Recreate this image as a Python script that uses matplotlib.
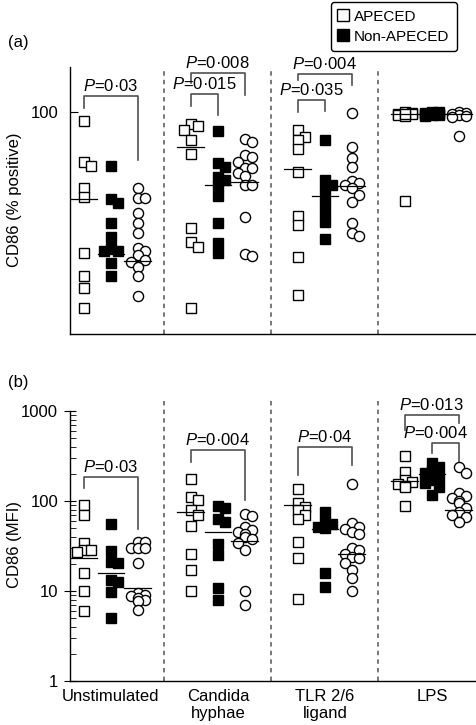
import numpy as np
import matplotlib
matplotlib.use("Agg")
import matplotlib.pyplot as plt
from matplotlib.lines import Line2D
from matplotlib.transforms import blended_transform_factory

plt.rcParams['font.family'] = ['Liberation Sans', 'DejaVu Sans']
plt.rcParams['mathtext.fontset'] = 'custom'
plt.rcParams['mathtext.it'] = 'Liberation Sans:italic'
plt.rcParams['mathtext.rm'] = 'Liberation Sans'
plt.rcParams['lines.scale_dashes'] = False

groups = ['Unstimulated', 'Candida\nhyphae', 'TLR 2/6\nligand', 'LPS']
legend_labels = ['APECED', 'Non-APECED']

# (a) CD86 % positive, per stimulus
pct_apeced = [
    [95.7, 77.2, 75.6, 65.7, 61.7, 36.3, 26.1, 20.8, 11.5],
    [94.4, 93.6, 91.7, 87.2, 80.8, 47.5, 41.5, 39.0, 11.5],
    [91.7, 88.7, 87.2, 83.0, 72.9, 53.0, 49.0, 34.5, 17.5],
    [99.6, 99.4, 99.1, 98.8, 98.5, 98.2, 99.0, 59.9],
]
pct_non = [
    [75.5, 60.5, 58.7, 50.0, 43.7, 38.5, 37.3, 37.3, 31.8, 26.1],
    [91.4, 77.0, 74.9, 70.7, 69.2, 66.5, 62.0, 49.7, 41.0, 36.3],
    [87.2, 69.2, 67.0, 64.7, 59.5, 55.0, 50.5, 42.6],
    [99.8, 99.6, 99.4, 99.2, 99.0, 98.8, 98.6, 98.4, 98.2],
]
pct_healthy = [
    [65.7, 61.3, 61.3, 54.5, 49.7, 45.5, 38.8, 37.3, 35.5, 33.3, 32.5, 30.2, 26.1, 17.1],
    [87.6, 86.4, 80.4, 79.7, 77.4, 74.5, 74.5, 72.2, 71.0, 67.0, 67.0, 52.7, 35.8, 35.1],
    [99.5, 83.9, 79.2, 74.9, 68.9, 68.0, 67.0, 65.5, 62.5, 59.5, 50.0, 45.3, 44.0],
    [99.7, 99.4, 99.0, 98.6, 98.2, 97.6, 89.0],
]
pct_med_apeced = [60.5, 83.9, 74.3, 99.0]
pct_med_non = [35.8, 67.0, 62.0, 99.0]
pct_med_healthy = [32.8, 68.2, 66.5, 99.0]

# (b) CD86 MFI, per stimulus
mfi_apeced = [
    [90.3, 69.9, 34.4, 28.5, 28.5, 27.3, 15.8, 10.0, 6.0],
    [175, 110, 102.6, 79.4, 69.9, 52.7, 25.8, 17.1, 10.1],
    [134.9, 95.7, 86.5, 79.4, 69.9, 62.6, 35.3, 23.1, 8.1],
    [316, 212, 171, 164, 154.5, 146.8, 142, 88],
]
mfi_non = [
    [55.5, 28.0, 21.2, 20.6, 13.3, 12.7, 9.8, 5.0],
    [88.0, 83.0, 62.6, 58.9, 33.3, 25.1, 10.7, 7.9],
    [76.0, 58.9, 55.5, 51.8, 50.0, 16.0, 11.0],
    [262, 237, 217, 203, 186, 171, 157, 144, 117],
]
mfi_healthy = [
    [35.3, 34.6, 29.8, 29.8, 29.8, 20.6, 9.5, 9.0, 8.7, 8.4, 8.0, 7.8, 6.1],
    [71.1, 68.7, 51.8, 47.6, 45.6, 43.0, 40.1, 37.5, 33.9, 28.5, 10.1, 7.0],
    [154.5, 57.4, 51.8, 48.5, 45.6, 43.0, 29.8, 28.5, 25.8, 23.7, 23.1, 20.6, 17.1, 13.8, 10.1],
    [237, 206, 122, 113.6, 107, 100.7, 95, 83, 76, 70, 65.9, 58.9],
]
mfi_med_apeced = [23.2, 76.0, 90.0, 168]
mfi_med_non = [16.0, 45.6, 48.5, 200]
mfi_med_healthy = [10.9, 35.9, 25.8, 79.4]

# brackets: group, col a, col b, bar y, left leg end, right leg end, label, text shift
pct_brackets = [
    (0, 0, 2, 107.0, 101.6, 78.2, '0·03', 0.0),
    (1, 0, 2, 117.2, 112.8, 107.4, '0·008', 0.0),
    (1, 0, 1, 107.7, 102.5, 98.4, '0·015', 0.0),
    (2, 0, 2, 116.8, 114.1, 111.9, '0·004', 0.0),
    (2, 0, 1, 105.2, 99.9, 100.4, '0·035', 0.0),
]
mfi_brackets = [
    (0, 0, 2, 186, 139, 48.9, '0·03', 0.0),
    (1, 0, 2, 369, 273, 102.6, '0·004', 0.0),
    (2, 0, 2, 401, 194, 251, '0·04', 0.0),
    (3, 0, 2, 903, 615, 730, '0·013', 0.0),
    (3, 1, 2, 438, 339, 262, '0·004', -0.09),
]

col_off = [-0.255, 0.0, 0.25]
styles = [dict(marker='s', mfc='white', mec='black', ms=6.8),
          dict(marker='s', mfc='black', mec='black', ms=6.8),
          dict(marker='o', mfc='white', mec='black', ms=7.3)]
bracket_color = '#505050'


def swarm_x(ax, x0, vals, step_px=7.0, min_px=7.0):
    # nudge points sideways when they would sit on top of each other
    vals = np.asarray(vals, dtype=float)
    tr = ax.transData
    ypx = tr.transform(np.column_stack([np.full(len(vals), x0), vals]))[:, 1]
    px_per_x = tr.transform([[x0 + 1, vals[0]]])[0, 0] - tr.transform([[x0, vals[0]]])[0, 0]
    placed = []
    xs = np.full(len(vals), x0)
    for i in np.argsort(-vals, kind='stable'):
        best, best_n = 0, None
        for c in [0, 1, -1]:
            n = sum(1 for cx, cy in placed
                    if abs(cx - c * step_px) < min_px and abs(cy - ypx[i]) < min_px)
            if best_n is None or n < best_n:
                best, best_n = c, n
            if n == 0:
                break
        placed.append((best * step_px, ypx[i]))
        xs[i] = x0 + best * step_px / px_per_x
    return xs


def draw_panel(ax, series, medians, brackets):
    for g in range(len(groups)):
        for c in range(3):
            x0 = g + col_off[c]
            vals = series[c][g]
            xs = swarm_x(ax, x0, vals)
            ax.plot(xs, vals, linestyle='none', mew=1.0, zorder=3, **styles[c])
            ax.plot([x0 - 0.125, x0 + 0.125], [medians[c][g]] * 2,
                    color='black', lw=0.9, zorder=4)
    for g, a, b, yb, yl, yr, txt, dx in brackets:
        xa, xb = g + col_off[a], g + col_off[b]
        ax.plot([xa, xa, xb, xb], [yl, yb, yb, yr], color=bracket_color,
                lw=1.2, clip_on=False, zorder=2)
        ax.annotate(r'$P$=' + txt, xy=((xa + xb) / 2 + dx, yb), xytext=(0, 1.5),
                    textcoords='offset points', ha='center', va='bottom',
                    fontsize=12, annotation_clip=False)


def style_axis(ax, top_ext):
    ax.set_xlim(-0.383, 3.402)
    for s in ['top', 'right']:
        ax.spines[s].set_visible(False)
    ax.spines['left'].set_linewidth(1.0)
    ax.spines['bottom'].set_linewidth(1.0)
    tr = blended_transform_factory(ax.transData, ax.transAxes)
    for xd in [0.5, 1.5, 2.5]:
        ax.plot([xd, xd], [0, top_ext], transform=tr, color='#555555', lw=1.1,
                dashes=(3.2, 3.0), clip_on=False, zorder=1)


fig = plt.figure(figsize=(4.76, 7.25), dpi=100)
ax1 = fig.add_axes([70 / 476, 1 - 334 / 725, 405 / 476, 267 / 725])
ax2 = fig.add_axes([70 / 476, 1 - 681 / 725, 405 / 476, 270 / 725])

# panel (a)
ax1.set_ylim(0, 120)
style_axis(ax1, 1.0)
ax1.set_yticks([100])
ax1.set_xticks([])
ax1.tick_params(axis='y', direction='in', length=6, labelsize=12, pad=8)
draw_panel(ax1, [pct_apeced, pct_non, pct_healthy],
           [pct_med_apeced, pct_med_non, pct_med_healthy], pct_brackets)

# panel (b)
ax2.set_yscale('log')
ax2.set_ylim(1, 1000)
style_axis(ax2, 1.048)
ax2.set_yticks([1, 10, 100, 1000])
ax2.set_yticklabels(['1', '10', '100', '1000'])
ax2.tick_params(axis='y', which='major', direction='inout', length=9, labelsize=12, pad=4)
ax2.tick_params(axis='y', which='minor', direction='in', length=4)
ax2.set_xticks(range(len(groups)))
ax2.set_xticklabels(groups, fontsize=12, linespacing=1.15)
ax2.tick_params(axis='x', length=0, pad=6)
draw_panel(ax2, [mfi_apeced, mfi_non, mfi_healthy],
           [mfi_med_apeced, mfi_med_non, mfi_med_healthy], mfi_brackets)

fig.text(15 / 476, 1 - 200 / 725, 'CD86 (% positive)', rotation=90,
         ha='center', va='center', fontsize=12)
fig.text(15 / 476, 1 - 545 / 725, 'CD86 (MFI)', rotation=90,
         ha='center', va='center', fontsize=12)
fig.text(8 / 476, 1 - 43 / 725, '(a)', ha='left', va='center', fontsize=12)
fig.text(8 / 476, 1 - 383 / 725, '(b)', ha='left', va='center', fontsize=12)

handles = [Line2D([], [], linestyle='none', marker='s', mfc='white', mec='black', ms=8, mew=1.0),
           Line2D([], [], linestyle='none', marker='s', mfc='black', mec='black', ms=8, mew=1.0)]
leg = fig.legend(handles, legend_labels, loc='upper right',
                 bbox_to_anchor=(457 / 476, 1 - 2 / 725), fontsize=11,
                 frameon=True, fancybox=True, edgecolor='black', framealpha=1,
                 handlelength=0.6, handletextpad=0.4, borderpad=0.5,
                 labelspacing=0.4, borderaxespad=0)
leg.get_frame().set_linewidth(1.0)

fig.savefig('out.png', dpi=100)
